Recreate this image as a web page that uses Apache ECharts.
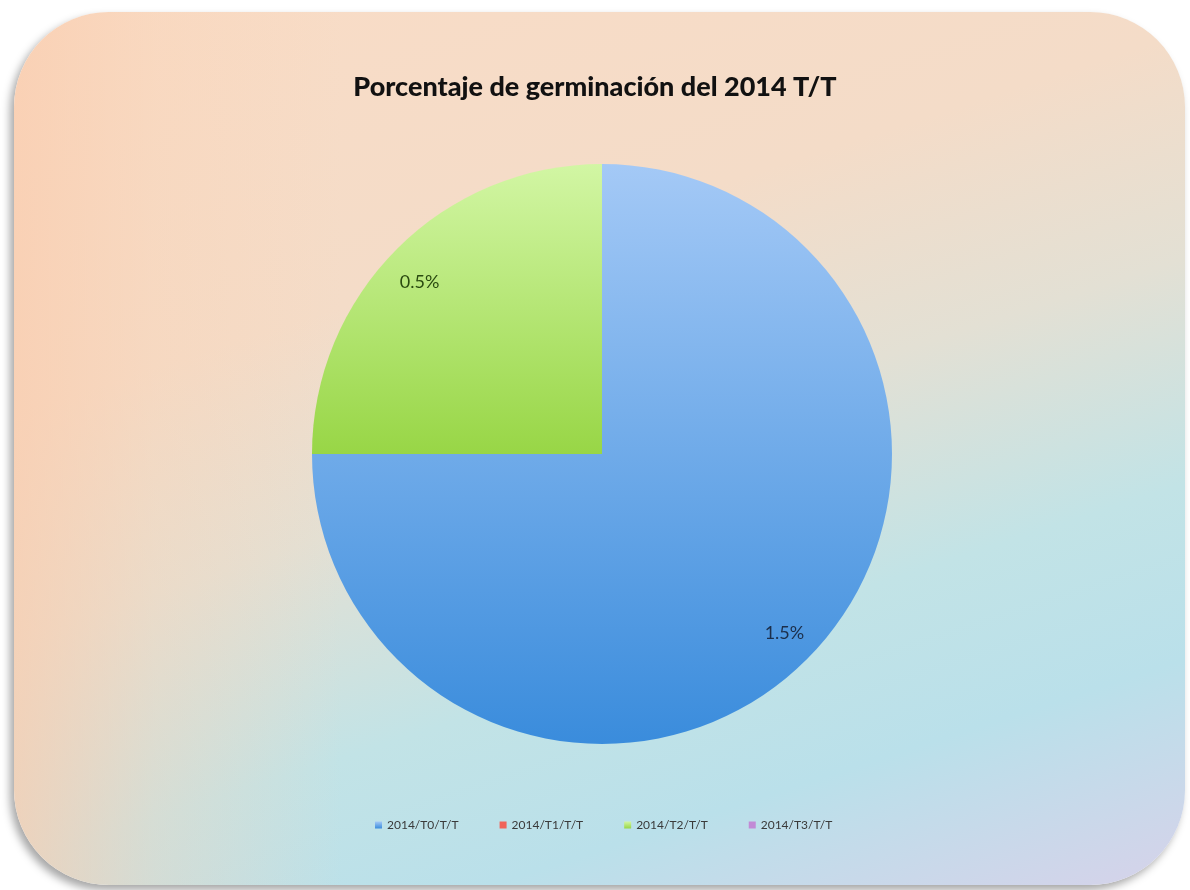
<!DOCTYPE html>
<html>
<head>
<meta charset="utf-8">
<script src="https://cdn.jsdelivr.net/npm/echarts@6/dist/echarts.min.js"></script>
<style>
html,body{margin:0;padding:0;background:#ffffff;width:1190px;height:890px;overflow:hidden;}
#card{position:absolute;left:14px;top:12px;width:1171px;height:873px;border-radius:95px;
 background:
  linear-gradient(to right, rgba(250,205,175,0.75) 0%, rgba(250,210,180,0.35) 12%, rgba(250,210,180,0) 28%),
  linear-gradient(162deg, #f9dcc6 0%, #f4dcc8 32%, #e3e0d4 50%, #c2e3e6 68%, #bae0ea 82%, #d6d2ea 100%);
 box-shadow:-4px 5px 8px rgba(0,0,0,0.35);}
#chart{position:absolute;left:0;top:0;width:1190px;height:890px;}
</style>
</head>
<body>
<div id="card"></div>
<div id="chart"></div>
<script>
var titleText = 'Porcentaje de germinación del 2014 T/T';
var categories = ['2014/T0/T/T', '2014/T1/T/T', '2014/T2/T/T', '2014/T3/T/T'];
var values = [1.5, 0, 0.5, 0];

var fills = [
  new echarts.graphic.LinearGradient(0, 0, 0, 1, [{offset:0,color:'#a4c9f6'},{offset:1,color:'#3a8cdc'}]),
  '#f0645a',
  new echarts.graphic.LinearGradient(0, 0, 0, 1, [{offset:0,color:'#d2f6a4'},{offset:1,color:'#98d646'}]),
  '#c28ad6'
];
var legendColors = ['#5a9fe6', '#f0645a', '#a8e060', '#c28ad6'];
var labelColors = ['#1c2e4a', '#333333', '#2a4a10', '#333333'];
var labelOffsets = [[0, -3], [0, 0], [0, 11], [0, 0]];

var pieData = categories.map(function(c, i){
  return {name: c, value: values[i], itemStyle: {color: fills[i]}};
});
var labelData = categories.map(function(c, i){
  return {name: c, value: values[i], label: {color: labelColors[i], offset: labelOffsets[i]}};
});

var chart = echarts.init(document.getElementById('chart'), null, {renderer:'canvas'});
chart.setOption({
  animation: false,
  backgroundColor: 'transparent',
  color: legendColors,
  title: {
    text: titleText, left: 'center', top: 69,
    textStyle: {fontFamily: 'Lato', fontWeight: 900, fontSize: 27, color: '#111111'}
  },
  legend: {
    data: categories, bottom: 54, left: 370,
    icon: 'rect', itemWidth: 7, itemHeight: 7, itemGap: 41, itemTextGap: 4,
    textStyle: {fontFamily: 'Lato', fontSize: 12, color: '#3a3a3a'}
  },
  series: [
    {
      type: 'pie', center: [602, 454], radius: [0, 290], startAngle: 90, clockwise: true,
      silent: true, label: {show: false}, labelLine: {show: false},
      data: pieData
    },
    {
      type: 'pie', center: [602, 454], radius: [215, 295], startAngle: 90, clockwise: true,
      silent: true, legendHoverLink: false,
      itemStyle: {color: 'rgba(0,0,0,0)'},
      label: {show: true, position: 'inside', fontFamily: 'Lato', fontSize: 18,
        formatter: function(p){ return p.value ? p.value + '%' : ''; }},
      labelLine: {show: false},
      data: labelData
    }
  ]
});
</script>
</body>
</html>
